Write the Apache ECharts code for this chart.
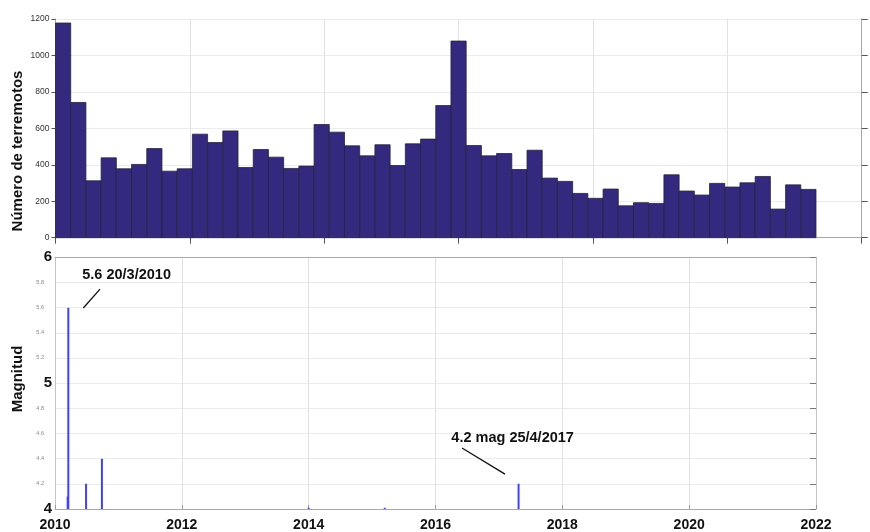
<!DOCTYPE html>
<html>
<head>
<meta charset="utf-8">
<script src="https://cdn.jsdelivr.net/npm/echarts@6/dist/echarts.min.js"></script>
<style>
  html, body { margin: 0; padding: 0; background: #fff; }
  #chart { width: 870px; height: 532px; }
</style>
</head>
<body>
<div id="chart"></div>
<script>
// número de terremotos por intervalo (histograma)
const conteos = [1178, 742, 312, 438, 378, 402, 489, 365, 378, 568, 522, 586, 385, 484, 442, 380, 393,
  621, 579, 504, 449, 510, 396, 515, 541, 725, 1079, 506, 449, 462, 374, 480, 327, 309, 243, 216,
  267, 175, 192, 188, 345, 256, 234, 298, 278, 301, 336, 157, 290, 265]
const histInicio = 2010
const histFin = 2021.32

// sismos mayores: fecha (año decimal) y magnitud
const sismoFecha = [2010.20, 2010.21, 2010.49, 2010.74, 2014.0, 2015.2, 2017.31]
const sismoMag = [4.1, 5.6, 4.2, 4.4, 4.01, 4.01, 4.2]

// anotaciones: texto, posición del texto y segmento indicador (en datos)
const notaTexto = ['5.6 20/3/2010', '4.2 mag 25/4/2017']
const notaPos = [[2010.43, 5.86], [2016.25, 4.566]]
const notaLinea = [[2010.446, 5.597, 2010.71, 5.747], [2017.096, 4.277, 2016.418, 4.485]]

const FONT = 'Liberation Sans, Arial, sans-serif'
const gris = '#a8a8a8'
const grid = '#ececec'

const ancho = (histFin - histInicio) / conteos.length
const histData = conteos.map((c, i) => [histInicio + i * ancho, histInicio + (i + 1) * ancho, c])
const sismoData = sismoFecha.map((f, i) => [f, sismoMag[i]])
const notaData = notaTexto.map((t, i) => [notaPos[i][0], notaPos[i][1], ...notaLinea[i], t])

const xBase = {
  type: 'value', min: 2010, max: 2022, interval: 2,
  axisLine: { lineStyle: { color: gris } },
  splitLine: { show: true, lineStyle: { color: '#e2e2e2' } }
}

const chart = echarts.init(document.getElementById('chart'))
chart.setOption({
  animation: false,
  grid: [
    { left: 55.5, right: 8.3, top: 19, height: 218.7 },
    { left: 55, right: 54, top: 257.3, height: 253.4 }
  ],
  xAxis: [
    Object.assign({}, xBase, {
      gridIndex: 0,
      axisTick: { length: 6, lineStyle: { color: '#555' } },
      axisLabel: { show: false }
    }),
    Object.assign({}, xBase, {
      gridIndex: 0, position: 'top',
      axisTick: { inside: true, length: 3, lineStyle: { color: '#555' } },
      axisLabel: { show: false }, splitLine: { show: false }
    }),
    Object.assign({}, xBase, {
      gridIndex: 1,
      axisTick: { inside: true, length: 4, lineStyle: { color: '#999' } },
      axisLabel: {
        margin: 9, color: '#111', fontFamily: FONT, fontWeight: 'bold', fontSize: 14,
        formatter: v => String(v)
      }
    }),
    Object.assign({}, xBase, {
      gridIndex: 1, position: 'top',
      axisTick: { show: false }, axisLabel: { show: false }, splitLine: { show: false }
    })
  ],
  yAxis: [
    {
      type: 'value', gridIndex: 0, min: 0, max: 1200, interval: 200,
      axisLine: { show: true, lineStyle: { color: gris } },
      axisTick: { show: true, length: 4, lineStyle: { color: '#555' } },
      axisLabel: { margin: 6, color: '#333', fontFamily: FONT, fontSize: 8.5, formatter: v => String(v) },
      splitLine: { lineStyle: { color: grid } }
    },
    {
      type: 'value', gridIndex: 0, min: 0, max: 1200, interval: 200, position: 'right',
      axisLine: { show: true, lineStyle: { color: gris } },
      axisTick: { show: true, length: 6, lineStyle: { color: '#555' } },
      axisLabel: { show: false }, splitLine: { show: false }
    },
    {
      type: 'value', gridIndex: 1, min: 4, max: 6, interval: 0.2,
      axisLine: { show: true, lineStyle: { color: '#c4c4c4' } },
      axisTick: { show: false },
      axisLabel: {
        margin: 3,
        formatter: v => Math.abs(v - Math.round(v)) < 1e-6 ? '{g|' + Math.round(v) + '}' : '{p|' + v.toFixed(1) + '}',
        rich: {
          g: { fontFamily: FONT, fontWeight: 'bold', fontSize: 15, color: '#111' },
          p: { fontFamily: FONT, fontSize: 5.5, color: '#888', padding: [0, 8, 0, 0] }
        }
      },
      splitLine: { lineStyle: { color: grid } }
    },
    {
      type: 'value', gridIndex: 1, min: 4, max: 6, interval: 0.2, position: 'right',
      axisLine: { show: true, lineStyle: { color: '#c4c4c4' } },
      axisTick: { show: true, inside: true, length: 6, lineStyle: { color: '#777' } },
      axisLabel: { show: false }, splitLine: { show: false }
    }
  ],
  series: [
    {
      type: 'custom', name: 'terremotos', xAxisIndex: 0, yAxisIndex: 0,
      data: histData, encode: { x: [0, 1], y: 2 },
      renderItem(params, api) {
        const a = api.coord([api.value(0), api.value(2)])
        const b = api.coord([api.value(1), 0])
        return {
          type: 'rect',
          shape: { x: a[0], y: a[1], width: b[0] - a[0], height: b[1] - a[1] },
          style: { fill: '#33297f', stroke: '#24233a', lineWidth: 0.8 }
        }
      }
    },
    {
      type: 'custom', name: 'magnitud', xAxisIndex: 2, yAxisIndex: 2,
      data: sismoData, encode: { x: 0, y: 1 }, clip: true,
      renderItem(params, api) {
        const a = api.coord([api.value(0), 4])
        const b = api.coord([api.value(0), api.value(1)])
        return {
          type: 'line',
          shape: { x1: a[0], y1: a[1], x2: b[0], y2: b[1] },
          style: { stroke: '#4040ff', lineWidth: 2 }
        }
      }
    },
    {
      type: 'custom', name: 'notas', xAxisIndex: 2, yAxisIndex: 2,
      data: notaData, encode: { x: 0, y: 1 }, silent: true,
      renderItem(params, api) {
        const t = api.coord([api.value(0), api.value(1)])
        const a = api.coord([api.value(2), api.value(3)])
        const b = api.coord([api.value(4), api.value(5)])
        return {
          type: 'group',
          children: [
            {
              type: 'line',
              shape: { x1: a[0], y1: a[1], x2: b[0], y2: b[1] },
              style: { stroke: '#111', lineWidth: 1.3 }
            },
            {
              type: 'text',
              style: {
                x: t[0], y: t[1], text: notaTexto[params.dataIndex],
                fill: '#111', font: 'bold 14.5px ' + FONT,
                textAlign: 'left', textVerticalAlign: 'middle'
              }
            }
          ]
        }
      }
    }
  ],
  graphic: [
    {
      type: 'text', x: 18, y: 151, rotation: Math.PI / 2,
      style: {
        text: 'Número de terremotos', fill: '#111', font: 'bold 15px ' + FONT,
        textAlign: 'center', textVerticalAlign: 'middle'
      }
    },
    {
      type: 'text', x: 18, y: 379, rotation: Math.PI / 2,
      style: {
        text: 'Magnitud', fill: '#111', font: 'bold 15px ' + FONT,
        textAlign: 'center', textVerticalAlign: 'middle'
      }
    }
  ]
})
</script>
</body>
</html>
